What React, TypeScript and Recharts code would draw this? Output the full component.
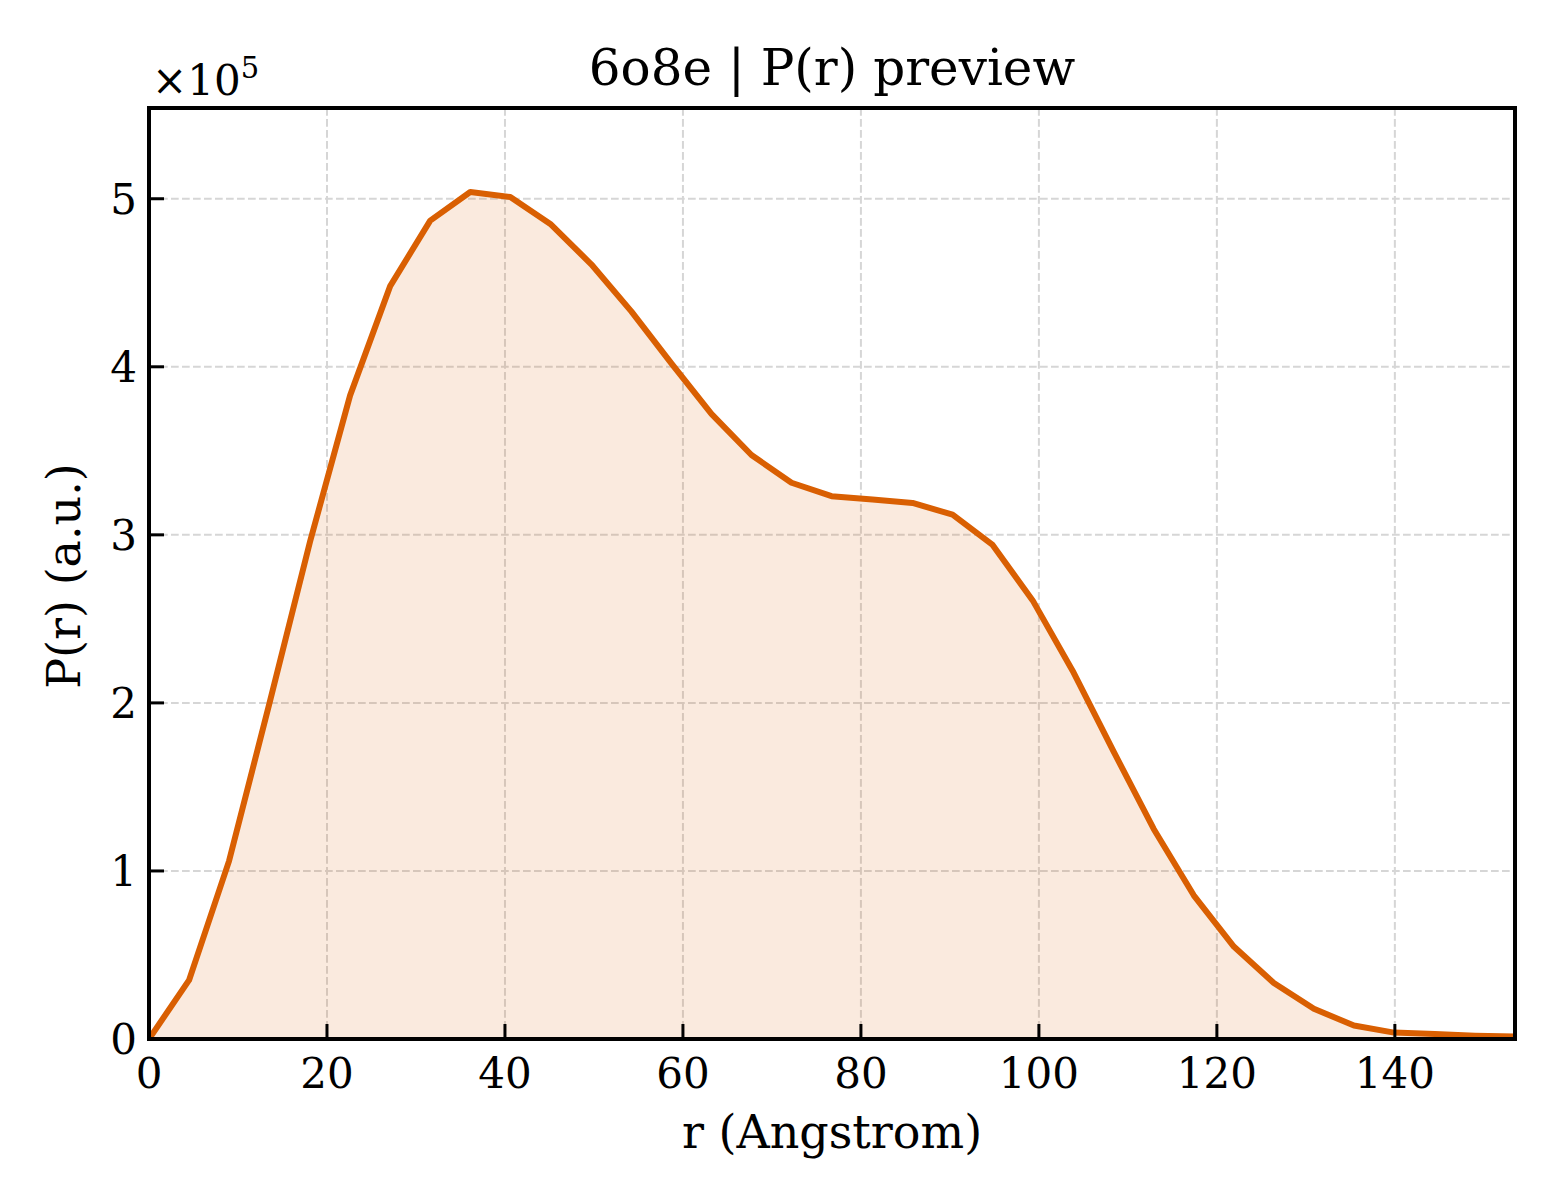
import React from "react";
import { AreaChart, Area, XAxis, YAxis, CartesianGrid, ReferenceArea } from "recharts";

// r (Angstrom)
const rValues = [
  0, 4.5, 9.0, 13.5, 18.1, 22.6, 27.1, 31.6, 36.1, 40.6, 45.1, 49.7, 54.2, 58.7, 63.2, 67.7, 72.2,
  76.7, 81.3, 85.8, 90.3, 94.8, 99.3, 103.8, 108.4, 112.9, 117.4, 121.9, 126.4, 130.9, 135.4, 139.9,
  144.5, 149.0, 153.5,
];
// P(r) (a.u.)
const pValues = [
  0, 35000, 106000, 199000, 296000, 383000, 448000, 487000, 504000, 501000, 485000, 461000, 433000,
  402000, 372000, 347500, 331000, 323000, 321000, 319000, 312000, 294000, 261000, 219000, 171000,
  125000, 85500, 55000, 33300, 18000, 8000, 3800, 3000, 2000, 1500,
];
const xTicks = [0, 20, 40, 60, 80, 100, 120, 140];
const yTicks = [0, 100000, 200000, 300000, 400000, 500000];

const data = rValues.map((r, i) => ({ r, p: pValues[i] }));

const FONT = "'DejaVu Serif', 'Liberation Serif', serif";
const W = 1544;
const H = 1184;
const X_TICK_MARGIN = 49;
const Y_TICK_MARGIN = 12;
const TICK_LEN = 15;

const XTick = (props: any) => {
  const { x, y, payload } = props;
  const axisY = y - X_TICK_MARGIN;
  return (
    <g>
      <line x1={x} x2={x} y1={axisY} y2={axisY - TICK_LEN} stroke="#000" strokeWidth={3} />
      <text x={x} y={y} textAnchor="middle" fontSize={42} fontFamily={FONT} fill="#000">
        {payload.value}
      </text>
    </g>
  );
};

const YTick = (props: any) => {
  const { x, y, payload } = props;
  const axisX = x + Y_TICK_MARGIN;
  return (
    <g>
      <line x1={axisX} x2={axisX + TICK_LEN} y1={y} y2={y} stroke="#000" strokeWidth={3} />
      <text x={x} y={y + 15} textAnchor="end" fontSize={42} fontFamily={FONT} fill="#000">
        {payload.value / 100000}
      </text>
    </g>
  );
};

export default function App() {
  return (
    <div style={{ position: "relative", width: W, height: H, background: "#fff" }}>
      <AreaChart
        width={W}
        height={H}
        data={data}
        margin={{ top: 100, right: 37, left: 81, bottom: 73 }}
      >
        <CartesianGrid stroke="#d6d6d6" strokeWidth={2} strokeDasharray="7.7 3.3" />
        <XAxis
          type="number"
          dataKey="r"
          domain={[0, 153.5]}
          ticks={xTicks}
          allowDataOverflow
          height={80}
          tickSize={0}
          tickMargin={X_TICK_MARGIN}
          axisLine={false}
          tickLine={false}
          tick={<XTick />}
          interval={0}
        />
        <YAxis
          type="number"
          domain={[0, 554000]}
          ticks={yTicks}
          allowDataOverflow
          width={60}
          tickSize={0}
          tickMargin={Y_TICK_MARGIN}
          axisLine={false}
          tickLine={false}
          tick={<YTick />}
          interval={0}
        />
        <Area
          type="linear"
          dataKey="p"
          stroke="#d95f02"
          strokeWidth={6}
          strokeLinejoin="round"
          fill="#d95f02"
          fillOpacity={0.13}
          baseValue={0}
          dot={false}
          activeDot={false}
          isAnimationActive={false}
        />
        <ReferenceArea
          x1={0}
          x2={153.5}
          y1={0}
          y2={554000}
          fill="none"
          fillOpacity={0}
          stroke="#000"
          strokeWidth={4}
          ifOverflow="visible"
        />
      </AreaChart>
      <svg
        width={W}
        height={H}
        style={{ position: "absolute", left: 0, top: 0, pointerEvents: "none" }}
      >
        <text x={824} y={77} textAnchor="middle" fontSize={50} fontFamily={FONT} fill="#000">
          6o8e | P(r) preview
        </text>
        <text x={144} y={87} fontSize={42} fontFamily={FONT} fill="#000">
          ×10
          <tspan dy={-17} fontSize={29}>
            5
          </tspan>
        </text>
        <text x={824} y={1140} textAnchor="middle" fontSize={46} fontFamily={FONT} fill="#000">
          r (Angstrom)
        </text>
        <text
          transform="translate(72,568) rotate(-90)"
          textAnchor="middle"
          fontSize={46}
          fontFamily={FONT}
          fill="#000"
        >
          P(r) (a.u.)
        </text>
      </svg>
    </div>
  );
}
